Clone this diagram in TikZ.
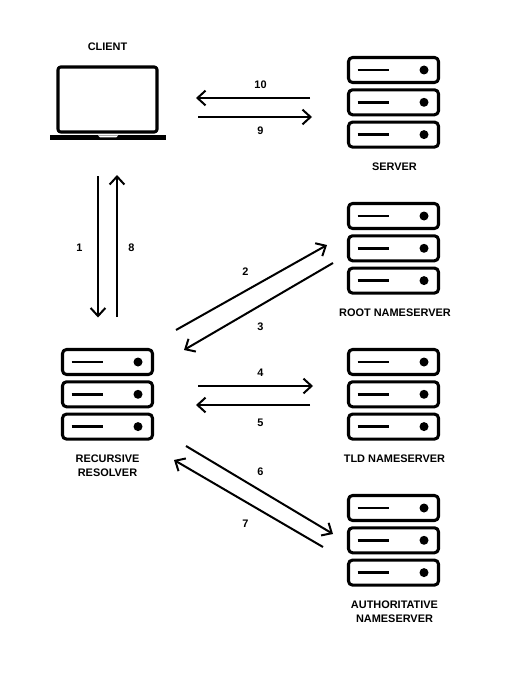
\documentclass[tikz,border=0pt]{standalone}
\usepackage{fontspec}
\setmainfont{Liberation Sans}
\usetikzlibrary{arrows.meta}
\tikzset{
	flow/.style={-{Straight Barb[length=6pt,width=11pt,line width=1.5pt]}, line width=1.5pt},
	lbl/.style={font=\fontsize{8.2}{10.5}\selectfont\bfseries, align=center, inner sep=0pt},
	num/.style={font=\fontsize{8.2}{10}\selectfont\bfseries, inner sep=0pt},
	rack/.pic={
		\foreach \r in {0,32.3,64.6} {
			\draw[line width=2.3pt, rounded corners=3pt] (1.5,1.5+\r) rectangle (91.5,26.5+\r);
			\draw[line width=2pt] (10.5,14+\r) -- (42,14+\r);
			\fill (77,14+\r) circle (4.5);
		}
	}
}
\begin{document}
\begin{tikzpicture}[x=0.75pt, y=-0.75pt, line cap=butt, line join=round]
	\useasboundingbox (0,0) rectangle (518,681);

	% 1. Laptop
	\draw[line width=2.3pt, rounded corners=2pt] (58,67) rectangle (157,132);
	\fill (50,135.5) rectangle (166,140);
	\fill[white] (98,135.5) -- (118,135.5) -- (116,137.5) -- (100,137.5) -- cycle;
	\node[lbl] (client) at (107.5,47) {CLIENT};

	% 2. Server racks
	\foreach \px/\py in {347/56, 347/202, 347/348, 347/494, 61/348}
		\pic at (\px,\py) {rack};

	% 3. Labels
	\node[lbl] (server) at (394.5,167) {SERVER};
	\node[lbl] (root) at (395,313) {ROOT NAMESERVER};
	\node[lbl] (tld) at (394.5,459) {TLD NAMESERVER};
	\node[lbl] (auth) at (394.5,612) {AUTHORITATIVE\\NAMESERVER};
	\node[lbl] (resolver) at (107.5,466) {RECURSIVE\\RESOLVER};

	% 4. Arrows and numbers
	\foreach \n/\ax/\ay/\bx/\by/\tx/\ty in {
		1/98/176/98/317.5/79.5/248,
		8/117/317/117/175/131.5/248,
		10/310/98/196/98/260.5/85,
		9/198/117/312/117/260.5/131,
		2/176/330/327/245/245.5/272,
		3/333/263/184/350/260.5/327,
		4/198/386/313/386/260.5/373,
		5/310/405/196/405/260.5/423,
		6/186/446/333/534/260.5/472,
		7/323/547/174/460/245.5/524} {
		\coordinate (a\n) at (\ax,\ay);
		\coordinate (b\n) at (\bx,\by);
		\draw[flow] (a\n) -- (b\n);
		\node[num] (n\n) at (\tx,\ty) {\n};
	}
\end{tikzpicture}
\end{document}
